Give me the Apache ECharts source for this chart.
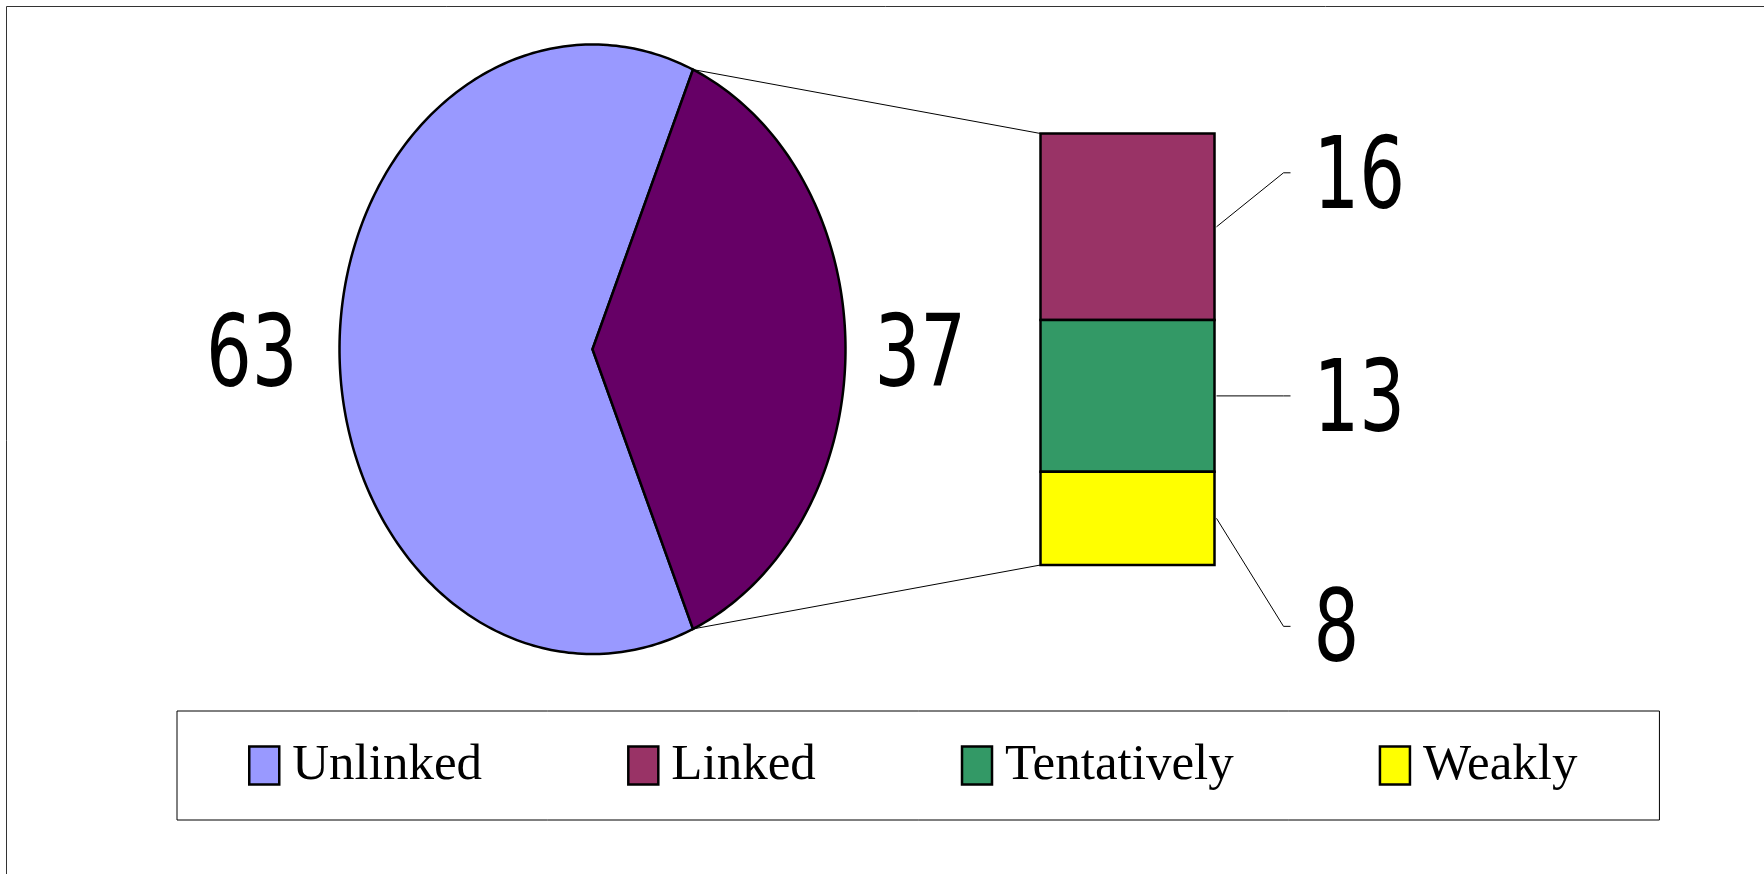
<!DOCTYPE html>
<html>
<head>
<meta charset="utf-8">
<script src="https://cdn.jsdelivr.net/npm/echarts@6/dist/echarts.min.js"></script>
<style>
    html, body { margin: 0; padding: 0; background: #fff; }
    #chart { width: 1764px; height: 874px; }
</style>
</head>
<body>
<div id="chart"></div>
<script>
// pie: Unlinked against the group that is broken out into the bar
const pieNames = ['Unlinked', 'Other']
const pieValues = [63, 37]
const pieColors = ['#9999FF', '#660066']

// bar: breakdown of the "Other" slice, top to bottom
const barNames = ['Linked', 'Tentatively', 'Weakly']
const barValues = [16, 13, 8]
const barColors = ['#993366', '#339966', '#FFFF00']

const legendNames = ['Unlinked', 'Linked', 'Tentatively', 'Weakly']

// layout (px)
const PIE_GRID = { left: 339.5, top: 44.5, width: 506, height: 609.5 }
const BAR_GRID = { left: 1040.5, top: 133.5, width: 174, height: 431.5 }
const BAR_LABEL_SHIFT = [-54, 0, 108] // label moved away from segment centre
const NUM_FONT = { fontFamily: 'DejaVu Sans', fontSize: 72, fill: '#000' }
const NUM_STRETCH = 1.39
const NUM_DY = 11 // digits sit a little low in the original

const pieTotal = pieValues.reduce((a, b) => a + b, 0)
const barTotal = barValues.reduce((a, b) => a + b, 0)

// the broken-out slice faces the bar (centred on 0 deg)
let otherHalf = pieValues[1] / pieTotal * 180
let pieSlices = []
let angle = otherHalf
pieValues.forEach((v, i) => {
    let span = v / pieTotal * 360
    pieSlices.push([angle, angle + span, v])
    angle += span
})

// stacked from the bottom: Weakly, Tentatively, Linked
let barSegs = []
let base = 0
for (let i = barValues.length - 1; i >= 0; i--) {
    barSegs[i] = [0, base, base + barValues[i], barValues[i]]
    base += barValues[i]
}

function ellPt(api, deg) {
    let r = deg * Math.PI / 180
    return api.coord([Math.cos(r), Math.sin(r)])
}

function renderSlice(params, api) {
    let a0 = api.value(0)
    let a1 = api.value(1)
    let pts = [api.coord([0, 0])]
    for (let a = a0; a < a1; a += 1) {
        pts.push(ellPt(api, a))
    }
    pts.push(ellPt(api, a1))

    let mid = (a0 + a1) / 2
    let edge = ellPt(api, mid)
    let onLeft = Math.cos(mid * Math.PI / 180) < 0

    return {
        type: 'group',
        children: [{
            type: 'polygon',
            shape: { points: pts },
            style: { fill: api.visual('color'), stroke: '#000', lineWidth: 2.5 }
        }, {
            type: 'text',
            x: onLeft ? edge[0] - 42 : edge[0] + 29,
            y: edge[1] + NUM_DY,
            scaleY: NUM_STRETCH,
            style: Object.assign({
                text: String(api.value(2)),
                align: onLeft ? 'right' : 'left',
                verticalAlign: 'middle'
            }, NUM_FONT)
        }]
    }
}

function segmentRenderer(idx) {
    return function(params, api) {
        let lo = api.coord([api.value(0), api.value(1)])
        let hi = api.coord([api.value(0), api.value(2)])
        let w = api.size([1, 0])[0]
        let right = lo[0] + w / 2
        let midY = (lo[1] + hi[1]) / 2
        let labelY = midY + BAR_LABEL_SHIFT[idx]

        return {
            type: 'group',
            children: [{
                type: 'rect',
                shape: { x: lo[0] - w / 2, y: hi[1], width: w, height: lo[1] - hi[1] },
                style: { fill: api.visual('color'), stroke: '#000', lineWidth: 2.5 }
            }, {
                type: 'polyline',
                shape: { points: [[right + 2, midY], [right + 69, labelY], [right + 76, labelY]] },
                style: { stroke: '#000', lineWidth: 1, fill: null }
            }, {
                type: 'text',
                x: right + 99,
                y: labelY + NUM_DY - 2,
                scaleY: NUM_STRETCH,
                style: Object.assign({
                    text: String(api.value(3)),
                    align: 'left',
                    verticalAlign: 'middle'
                }, NUM_FONT)
            }]
        }
    }
}

let series = []
pieNames.forEach((name, i) => {
    series.push({
        type: 'custom',
        name: name,
        xAxisIndex: 0,
        yAxisIndex: 0,
        itemStyle: { color: pieColors[i] },
        renderItem: renderSlice,
        data: [pieSlices[i]]
    })
})
barNames.forEach((name, i) => {
    series.push({
        type: 'custom',
        name: name,
        xAxisIndex: 1,
        yAxisIndex: 1,
        itemStyle: { color: barColors[i] },
        renderItem: segmentRenderer(i),
        data: [barSegs[i]]
    })
})

let myChart = echarts.init(document.getElementById('chart'))

let option = {
    animation: false,
    backgroundColor: '#fff',
    grid: [
        Object.assign({ outerBoundsMode: 'none', containLabel: false }, PIE_GRID),
        Object.assign({ outerBoundsMode: 'none', containLabel: false }, BAR_GRID)
    ],
    xAxis: [
        { type: 'value', gridIndex: 0, min: -1, max: 1, show: false },
        { type: 'category', gridIndex: 1, data: ['Other'], boundaryGap: true, show: false }
    ],
    yAxis: [
        { type: 'value', gridIndex: 0, min: -1, max: 1, show: false },
        { type: 'value', gridIndex: 1, min: 0, max: barTotal, show: false }
    ],
    legend: {
        data: legendNames,
        orient: 'horizontal',
        left: 177,
        top: 711,
        padding: [29, 82, 29, 71],
        itemGap: 145,
        itemWidth: 30,
        itemHeight: 38,
        icon: 'rect',
        selectedMode: false,
        itemStyle: { borderColor: '#000', borderWidth: 2.5 },
        textStyle: { fontFamily: 'Liberation Serif', fontSize: 51, color: '#000', padding: [0, 0, 0, 8] },
        backgroundColor: '#fff',
        borderColor: '#000',
        borderWidth: 1,
        borderRadius: 0
    },
    series: series
}
myChart.setOption(option)

// lines joining the broken-out slice to the bar
let rad = otherHalf * Math.PI / 180
let pTop = myChart.convertToPixel({ gridIndex: 0 }, [Math.cos(rad), Math.sin(rad)])
let pBot = myChart.convertToPixel({ gridIndex: 0 }, [Math.cos(rad), -Math.sin(rad)])
let bTop = myChart.convertToPixel({ gridIndex: 1 }, [0, barTotal])
let bBot = myChart.convertToPixel({ gridIndex: 1 }, [0, 0])
let barLeft = bTop[0] - BAR_GRID.width / 2

myChart.setOption({
    graphic: [{
        type: 'rect',
        silent: true,
        z: -1,
        shape: { x: 6.5, y: 6.5, width: 1800, height: 900 },
        style: { fill: null, stroke: '#333', lineWidth: 1 }
    }, {
        type: 'line',
        silent: true,
        shape: { x1: pTop[0], y1: pTop[1], x2: barLeft, y2: bTop[1] },
        style: { stroke: '#000', lineWidth: 1 }
    }, {
        type: 'line',
        silent: true,
        shape: { x1: pBot[0], y1: pBot[1], x2: barLeft, y2: bBot[1] },
        style: { stroke: '#000', lineWidth: 1 }
    }]
})
</script>
</body>
</html>
